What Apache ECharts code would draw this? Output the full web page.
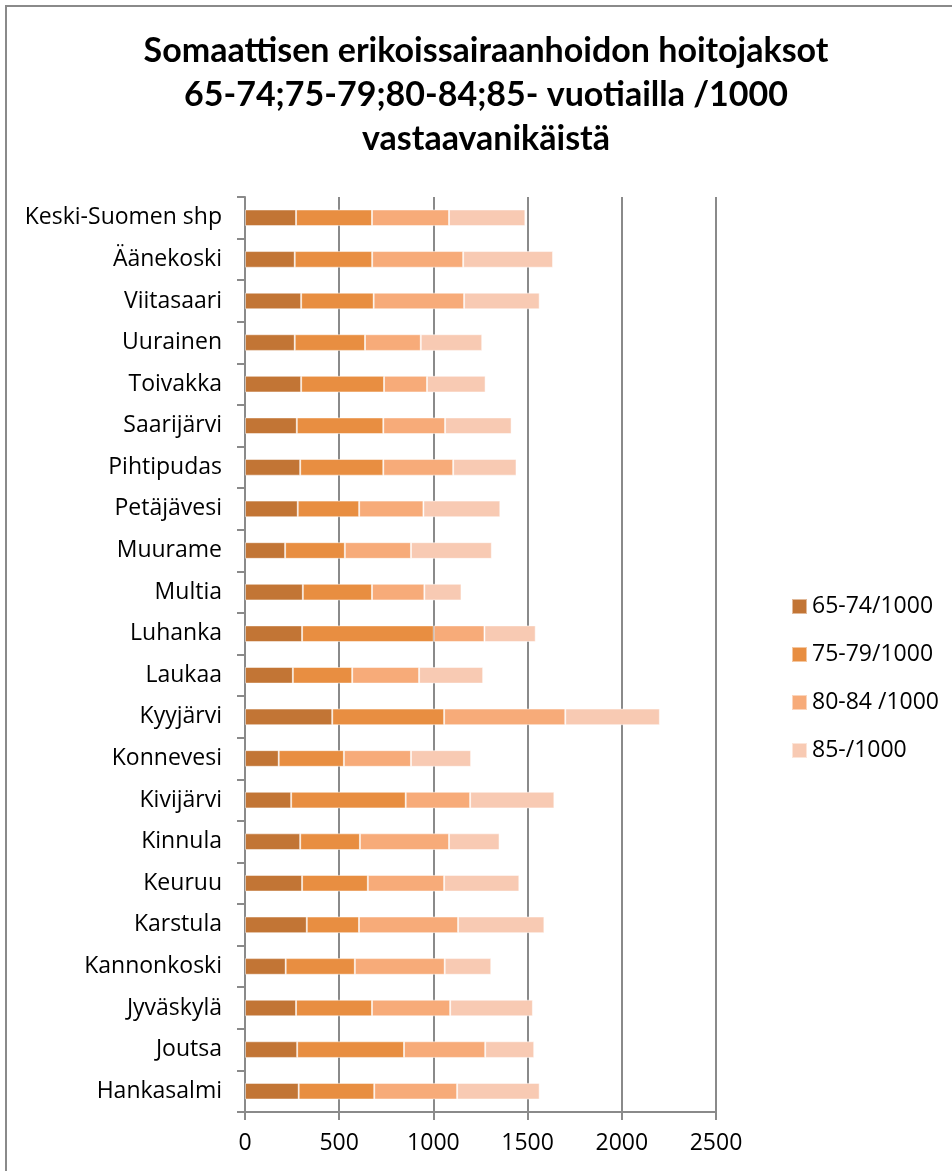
<!DOCTYPE html>
<html>
<head>
<meta charset="utf-8">
<script src="https://cdn.jsdelivr.net/npm/echarts@6/dist/echarts.min.js"></script>
<style>
html,body{margin:0;padding:0;background:#fff;}
#chart{width:952px;height:1171px;}
</style>
</head>
<body>
<div id="chart"></div>
<script>
const categories = ["Hankasalmi","Joutsa","Jyväskylä","Kannonkoski","Karstula","Keuruu","Kinnula","Kivijärvi","Konnevesi","Kyyjärvi","Laukaa","Luhanka","Multia","Muurame","Petäjävesi","Pihtipudas","Saarijärvi","Toivakka","Uurainen","Viitasaari","Äänekoski","Keski-Suomen shp"];
const seriesNames = ["65-74/1000","75-79/1000","80-84 /1000","85-/1000"];
const s65_74 = [285,277,271,216,328,303,293,245,179,463,254,303,307,213,280,293,275,298,264,298,264,271];
const s75_79 = [401,567,403,367,277,349,317,608,346,594,315,699,367,317,326,441,459,440,373,385,411,403];
const s80_84 = [440,431,415,477,526,405,473,342,356,643,355,269,278,351,341,371,328,228,296,480,483,409];
const s85 = [438,260,439,247,458,399,268,447,319,502,340,272,197,429,408,336,353,311,326,401,477,405];
const xTicks = [0,500,1000,1500,2000,2500];
const titleText = "Somaattisen erikoissairaanhoidon hoitojaksot\n65-74;75-79;80-84;85- vuotiailla /1000\nvastaavanikäistä";

const colors = ["#C27535","#E88E41","#F7AB79","#F8CAB3"];
const values = [s65_74, s75_79, s80_84, s85];
const labelFont = "'Open Sans', 'Liberation Sans', sans-serif";
const titleFont = "Lato, 'Open Sans', sans-serif";
const gray = '#8a8a8a';

const chart = echarts.init(document.getElementById('chart'), null, {renderer:'canvas'});
chart.setOption({
  animation:false,
  backgroundColor:'#fff',
  textStyle:{fontFamily:labelFont},
  graphic:[{type:'rect', shape:{x:6,y:6,width:1000,height:1200}, style:{fill:'none', stroke:gray, lineWidth:2}, silent:true}],
  title:{
    text:titleText,
    left:481, top:24, textAlign:'center',
    textStyle:{fontFamily:titleFont, fontSize:34, fontWeight:'bold', color:'#000', lineHeight:44}
  },
  color:colors,
  legend:{
    orient:'vertical', left:786, top:590,
    itemWidth:15, itemHeight:15, itemGap:25, icon:'rect',
    textStyle:{fontFamily:labelFont, fontSize:23, color:'#000', lineHeight:23},
    data:seriesNames
  },
  grid:{left:245, right:236, top:197, bottom:59, containLabel:false},
  xAxis:{
    type:'value', min:xTicks[0], max:xTicks[xTicks.length-1], interval:500,
    axisLine:{show:true, lineStyle:{color:gray, width:2}},
    axisTick:{show:true, length:8, lineStyle:{color:gray, width:2}},
    axisLabel:{fontFamily:labelFont, fontSize:23, color:'#000', margin:20, formatter:v=>String(v)},
    splitLine:{show:true, lineStyle:{color:gray, width:2}}
  },
  yAxis:{
    type:'category', data:categories,
    axisLine:{show:true, lineStyle:{color:gray, width:2}},
    axisTick:{show:true, length:8, alignWithLabel:false, lineStyle:{color:gray, width:2}},
    axisLabel:{fontFamily:labelFont, fontSize:23, color:'#000', margin:23},
    splitLine:{show:false}
  },
  series: seriesNames.map((n,i)=>({
    name:n, type:'bar', stack:'total', data:values[i],
    barCategoryGap:'60%',
    itemStyle:{color:colors[i], borderColor:'rgba(255,255,255,0.5)', borderWidth:1}
  }))
});
</script>
</body>
</html>
